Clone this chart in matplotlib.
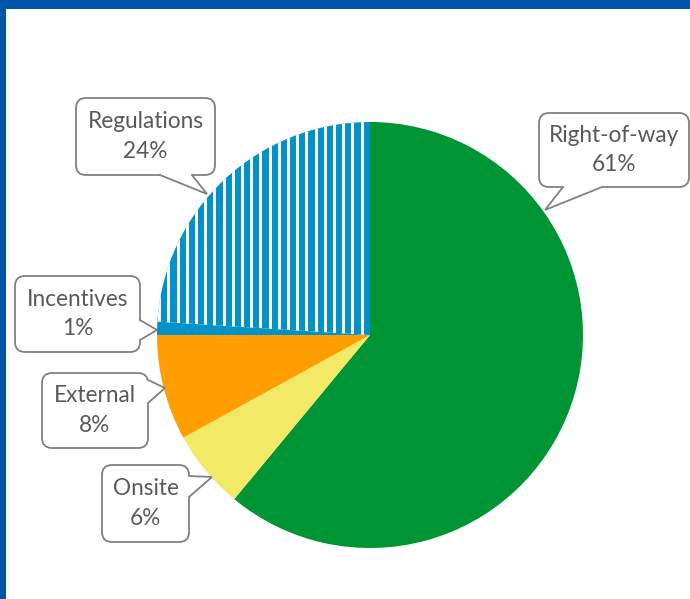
import numpy as np
import matplotlib
matplotlib.use("Agg")
import matplotlib.pyplot as plt
from matplotlib.patches import Rectangle, FancyBboxPatch, Polygon

# ---- data ----
categories = ["Right-of-way", "Onsite", "External", "Incentives", "Regulations"]
values = [61, 6, 8, 1, 24]
colors = ["#009534", "#F2E966", "#FF9E00", "#0092C8", "#0092C8"]

W, H = 690, 599
fig = plt.figure(figsize=(W / 100, H / 100), dpi=100)
fig.patch.set_facecolor("white")
ax = fig.add_axes([0, 0, 1, 1])

def py(y):  # pixel y (top-down) -> data y
    return H - y

cx, cy, R = 370, py(335), 213
wedges, _ = ax.pie(values, colors=colors, startangle=90, counterclock=False,
                   center=(cx, cy), radius=R, frame=True,
                   wedgeprops=dict(linewidth=0))
ax.set_xlim(0, W)
ax.set_ylim(0, H)
ax.set_aspect("equal")
ax.axis("off")

# vertical stripes on the Regulations slice (white gaps over blue)
reg = wedges[4]
x = cx - 6.5
while x > cx - R - 10:
    r = Rectangle((x - 3, cy - 5), 3, R + 10, facecolor="white", edgecolor="none", zorder=3)
    ax.add_patch(r)
    r.set_clip_path(reg)
    x -= 9.2

# ---- callouts (layout in pixel coords) ----
edge = "#808080"
tcol = "#595959"
callouts = {
    # box (left, top, right, bottom), pointer base (side, a, b), tip (x, y)
    "Right-of-way": ((539, 113, 689, 187), ("bottom", 563, 602), (545, 210)),
    "Regulations": ((76, 98, 215, 175), ("bottom", 160, 192), (207, 194)),
    "Incentives": ((15, 276, 140, 352), ("right", 320, 340), (157, 330)),
    "External": ((42, 373, 148, 448), ("right", 380, 403), (165, 388)),
    "Onsite": ((102, 465, 189, 542), ("right", 476, 497), (212, 477)),
}
for name, val in zip(categories, values):
    (l, t, rr, b), (side, a, bb), (tx, ty) = callouts[name]
    box = FancyBboxPatch((l + 10, py(b) + 10), (rr - l) - 20, (b - t) - 20,
                         boxstyle="round,pad=10", facecolor="white",
                         edgecolor=edge, linewidth=1.3, zorder=5)
    ax.add_patch(box)
    if side == "bottom":
        p1, p2 = (a, py(b)), (bb, py(b))
        inner = [(bb, py(b) + 2), (a, py(b) + 2)]
    else:
        p1, p2 = (rr, py(a)), (rr, py(bb))
        inner = [(rr - 2, py(bb)), (rr - 2, py(a))]
    tip = (tx, py(ty))
    ax.add_patch(Polygon([p1, tip, p2] + inner, closed=True, facecolor="white",
                         edgecolor="none", zorder=6))
    ax.plot([p1[0], tip[0], p2[0]], [p1[1], tip[1], p2[1]], color=edge,
            linewidth=1.3, zorder=7, solid_joinstyle="miter")
    ax.text((l + rr) / 2, py((t + b) / 2), f"{name}\n{val}%", ha="center",
            va="center", color=tcol, fontsize=16.3, family="Lato",
            linespacing=1.5, zorder=8)

# ---- blue frame ----
fig.patches.append(Rectangle((0, 1 - 9 / H), 1, 9 / H, transform=fig.transFigure,
                             facecolor="#0055A6", edgecolor="none", zorder=10))
fig.patches.append(Rectangle((0, 0), 6 / W, 1, transform=fig.transFigure,
                             facecolor="#0055A6", edgecolor="none", zorder=10))

fig.savefig("out.png", dpi=100, facecolor="white")
